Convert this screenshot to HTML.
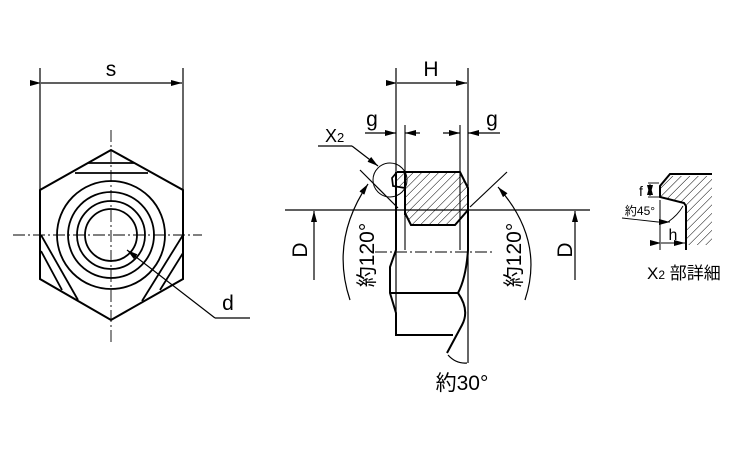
<!DOCTYPE html>
<html><head><meta charset="utf-8"><style>
html,body{margin:0;padding:0;background:#fff;}
svg{display:block;}
text{font-family:"Liberation Sans","Noto Sans CJK JP",sans-serif;fill:#000;}
</style></head><body>
<svg width="750" height="450" viewBox="0 0 750 450" xmlns="http://www.w3.org/2000/svg">
<defs>
<marker id="a" markerWidth="11" markerHeight="6" refX="11" refY="3" orient="auto" markerUnits="userSpaceOnUse"><path d="M0,0 L11,3 L0,6 Z" fill="#000"/></marker>
<pattern id="h" width="6" height="6" patternUnits="userSpaceOnUse" patternTransform="rotate(45)"><line x1="0" y1="0" x2="0" y2="6" stroke="#000" stroke-width="1"/></pattern>
</defs>
<g fill="none" stroke="#000">
<line x1="40" y1="68" x2="40" y2="190" stroke-width="1.2"/>
<line x1="183" y1="68" x2="183" y2="190" stroke-width="1.2"/>
<line x1="41" y1="83" x2="182" y2="83" marker-start="url(#a)" marker-end="url(#a)" stroke-width="1.2"/>
<polygon points="111,150 40,190 40,279 111,320 183,279 183,190" stroke-width="2"/>
<line x1="88" y1="163" x2="134" y2="163" stroke-width="1.8"/>
<line x1="75" y1="173" x2="148" y2="173" stroke-width="1.8"/>
<circle cx="111" cy="235" r="54" stroke-width="1.8"/>
<circle cx="111" cy="235" r="43" stroke-width="1.8"/>
<circle cx="111" cy="235" r="34" stroke-width="1.8"/>
<circle cx="111" cy="235" r="26" stroke-width="1.8"/>
<line x1="41" y1="235" x2="78" y2="300" stroke-width="1.8"/>
<line x1="41" y1="251" x2="62" y2="290" stroke-width="1.8"/>
<line x1="183" y1="235" x2="142" y2="301" stroke-width="1.8"/>
<line x1="183" y1="253" x2="160" y2="290" stroke-width="1.8"/>
<line x1="13" y1="235" x2="202" y2="235" stroke-width="0.9" stroke-dasharray="12,3,2,3"/>
<line x1="111" y1="130" x2="111" y2="345" stroke-width="0.9" stroke-dasharray="12,3,2,3"/>
<line x1="215" y1="318" x2="127" y2="250" marker-end="url(#a)" stroke-width="1.2"/>
<line x1="215" y1="318" x2="250" y2="318" stroke-width="1.2"/>

<line x1="396" y1="68" x2="396" y2="335" stroke-width="1.2"/>
<line x1="468" y1="68" x2="468" y2="363" stroke-width="1.2"/>
<line x1="397" y1="83" x2="467" y2="83" marker-start="url(#a)" marker-end="url(#a)" stroke-width="1.2"/>
<line x1="405" y1="125" x2="405" y2="250" stroke-width="1.1"/>
<line x1="460" y1="125" x2="460" y2="250" stroke-width="1.1"/>
<line x1="365" y1="133" x2="396" y2="133" marker-end="url(#a)" stroke-width="1.2"/>
<line x1="420" y1="133" x2="405" y2="133" marker-end="url(#a)" stroke-width="1.2"/>
<line x1="443" y1="133" x2="460" y2="133" marker-end="url(#a)" stroke-width="1.2"/>
<line x1="500" y1="133" x2="468" y2="133" marker-end="url(#a)" stroke-width="1.2"/>
<path d="M405,172 L460,172 L468,188 L468,210 L455,225 L411,225 L405,213 Z" fill="url(#h)" stroke="none"/>
<path d="M394,176 L397,180 L394,186 L405,188 L405,172 L397,172 Z" fill="url(#h)" stroke="none"/>
<path d="M397,172 L460,172 L468,188 L468,210 L455,225 L411,225 L405,213" stroke-width="2"/>
<path d="M397,172 L392,178 L393,186 L405,188" stroke-width="1.7"/>
<line x1="405" y1="172" x2="405" y2="215" stroke-width="2"/>
<path d="M396,172 L396,250 L390,267 L390,293 L396,313 L396,335 L453,335" stroke-width="2"/>
<path d="M390,293 L458,293" stroke-width="2"/>
<path d="M468,210 L468,250 Q466,278 458,293 Q470,310 462,325 L447,353" stroke-width="2"/>
<line x1="375" y1="252" x2="492" y2="252" stroke-width="0.9" stroke-dasharray="12,3,2,3"/>
<line x1="285" y1="210" x2="590" y2="210" stroke-width="1.2"/>
<line x1="314" y1="280" x2="314" y2="211" marker-end="url(#a)" stroke-width="1.2"/>
<line x1="575" y1="280" x2="575" y2="211" marker-end="url(#a)" stroke-width="1.2"/>
<line x1="360" y1="170" x2="398" y2="208" stroke-width="1.2"/>
<line x1="507" y1="172" x2="470" y2="207" stroke-width="1.2"/>
<path d="M350,300 Q330,240 368,184" marker-end="url(#a)" stroke-width="1.2"/>
<path d="M525,300 Q545,240 498,187" marker-end="url(#a)" stroke-width="1.2"/>
<circle cx="390" cy="180" r="17" stroke-width="1"/>
<line x1="318" y1="146" x2="352" y2="146" stroke-width="1.2"/>
<line x1="352" y1="146" x2="378" y2="166" marker-end="url(#a)" stroke-width="1.2"/>
<path d="M448,355 Q456,364 467,363" stroke-width="1.2"/>

<path d="M668,176 L712,176 L712,245 L686,245 L686,205 L660,197 L660,186 Z" fill="url(#h)" stroke="none"/>
<path d="M712,174 L670,174 L660,186 L660,197 L684,203 L686,206 L686,250" stroke-width="2"/>
<line x1="660" y1="200" x2="660" y2="250" stroke-width="1"/>
<line x1="648" y1="183" x2="659" y2="183" stroke-width="0.9"/>
<line x1="648" y1="197" x2="659" y2="197" stroke-width="0.9"/>
<line x1="650" y1="190" x2="650" y2="184" marker-end="url(#a)" stroke-width="0.9"/>
<line x1="650" y1="190" x2="650" y2="196" marker-end="url(#a)" stroke-width="0.9"/>
<line x1="661" y1="243" x2="685" y2="243" marker-start="url(#a)" marker-end="url(#a)" stroke-width="0.9"/>
<line x1="622" y1="218" x2="658" y2="222" stroke-width="0.9"/>
<line x1="658" y1="222" x2="670" y2="222" marker-end="url(#a)" stroke-width="0.9"/>
<path d="M668,222 Q678,215 683,206" stroke-width="0.9"/>
</g>
<g font-size="21">
<text x="111" y="76" text-anchor="middle">s</text>
<text x="228" y="310" text-anchor="middle">d</text>
<text x="431" y="76" text-anchor="middle">H</text>
<text x="372" y="126" text-anchor="middle">g</text>
<text x="492" y="126" text-anchor="middle">g</text>
<text x="325" y="142" font-size="18">X<tspan font-size="13">2</tspan></text>
<text transform="translate(307,250) rotate(-90)" text-anchor="middle">D</text>
<text transform="translate(572,250) rotate(-90)" text-anchor="middle">D</text>
<text transform="translate(374,255) rotate(-90)" text-anchor="middle">約120°</text>
<text transform="translate(521,255) rotate(-90)" text-anchor="middle">約120°</text>
<text x="462" y="390" text-anchor="middle">約30°</text>
</g>
<g font-size="13">
<text x="641" y="196" text-anchor="middle" font-size="14">f</text>
<text x="640" y="215" text-anchor="middle" font-size="12">約45°</text>
<text x="673" y="240" text-anchor="middle" font-size="16">h</text>
<text x="647" y="279" font-size="17">X<tspan font-size="12">2</tspan> 部詳細</text>
</g>
</svg>
</body></html>
